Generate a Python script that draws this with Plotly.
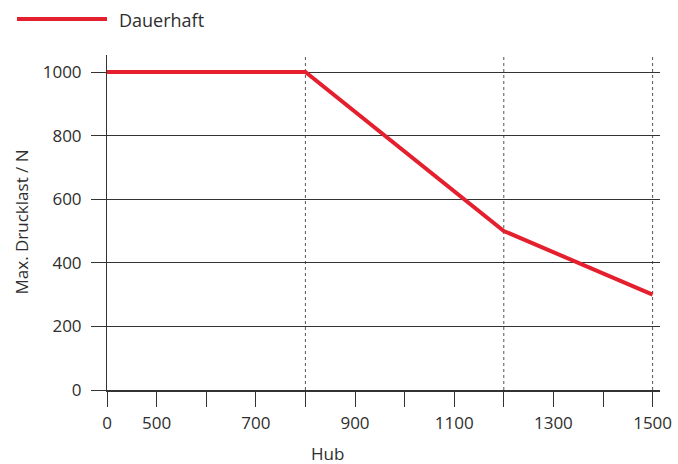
import plotly.graph_objects as go

# Data
hub = [0, 800, 1200, 1500]
load = [1000, 1000, 500, 300]
series_name = "Dauerhaft"
tick_hub = [0, 500, 600, 700, 800, 900, 1000, 1100, 1200, 1300, 1400, 1500]
tick_text = ["0", "500", "", "700", "", "900", "", "1100", "", "1300", "", "1500"]
grid_hub = [800, 1200, 1500]
y_ticks = [0, 200, 400, 600, 800, 1000]


def pos(h):
    # broken axis: 0-500 compressed into one step, then one step per 100
    return h / 500 if h <= 500 else 1 + (h - 500) / 100


W, H = 678, 464
PL, PR, PT, PB = 107, 660, 55, 390  # plot box in page pixels
L, T = PL, PT
R, B = W - PR, H - PB
pw, ph = PR - PL, PB - PT


def px(xp):
    return (xp - PL) / pw


def py(yp):
    return (PB - yp) / ph


RED = "#e5202e"
TXT = "#2e2e2e"
FONT = "Open Sans"
FS = 17

fig = go.Figure()
fig.add_trace(go.Scatter(
    x=[pos(h) for h in hub], y=load, mode="lines",
    line=dict(color=RED, width=4), name=series_name, showlegend=False,
))

shapes = []
for g in grid_hub:
    shapes.append(dict(type="line", xref="x", yref="paper", x0=pos(g), x1=pos(g),
                       y0=0, y1=1, line=dict(color="#555", width=1, dash="dot"), layer="below"))
# legend sample
shapes.append(dict(type="line", xref="paper", yref="paper",
                   x0=px(17), x1=px(107), y0=py(19), y1=py(19),
                   line=dict(color=RED, width=4)))

annotations = [
    dict(text=series_name, xref="paper", yref="paper", x=px(117), y=py(20),
         xanchor="left", yanchor="middle", showarrow=False, font=dict(family=FONT, size=18, color=TXT)),
    dict(text="Hub", xref="paper", yref="paper", x=px(327), y=py(453),
         xanchor="center", yanchor="middle", showarrow=False, font=dict(family=FONT, size=FS, color=TXT)),
    dict(text="Max. Drucklast / N", xref="paper", yref="paper", x=px(21), y=0.5,
         xanchor="center", yanchor="middle", textangle=-90, showarrow=False,
         font=dict(family=FONT, size=FS, color=TXT)),
]

fig.update_layout(
    width=W, height=H,
    margin=dict(l=L, r=R, t=T, b=B, autoexpand=False),
    paper_bgcolor="white", plot_bgcolor="white",
    font=dict(family=FONT, size=FS, color=TXT),
    shapes=shapes, annotations=annotations,
    xaxis=dict(
        range=[0, (PR - PL) / 49.6], tickmode="array",
        tickvals=[pos(t) for t in tick_hub], ticktext=tick_text,
        ticks="outside", ticklen=15, tickwidth=1, tickcolor="#333",
        showgrid=False, zeroline=False, showline=True, linecolor="#333", linewidth=1.5,
        ticklabelstandoff=2, automargin=False,
    ),
    yaxis=dict(
        range=[0, (PB - PT) / 0.318], tickmode="array", tickvals=y_ticks,
        ticks="outside", ticklen=15, tickwidth=1, tickcolor="#333",
        showgrid=True, gridcolor="#333", gridwidth=1, zeroline=False,
        showline=True, linecolor="#333", linewidth=1, ticklabelstandoff=6,
        automargin=False,
    ),
)

fig.write_html("out.html", config={"displayModeBar": False},
               post_script="document.body.style.margin='0';document.body.style.overflow='hidden';")
